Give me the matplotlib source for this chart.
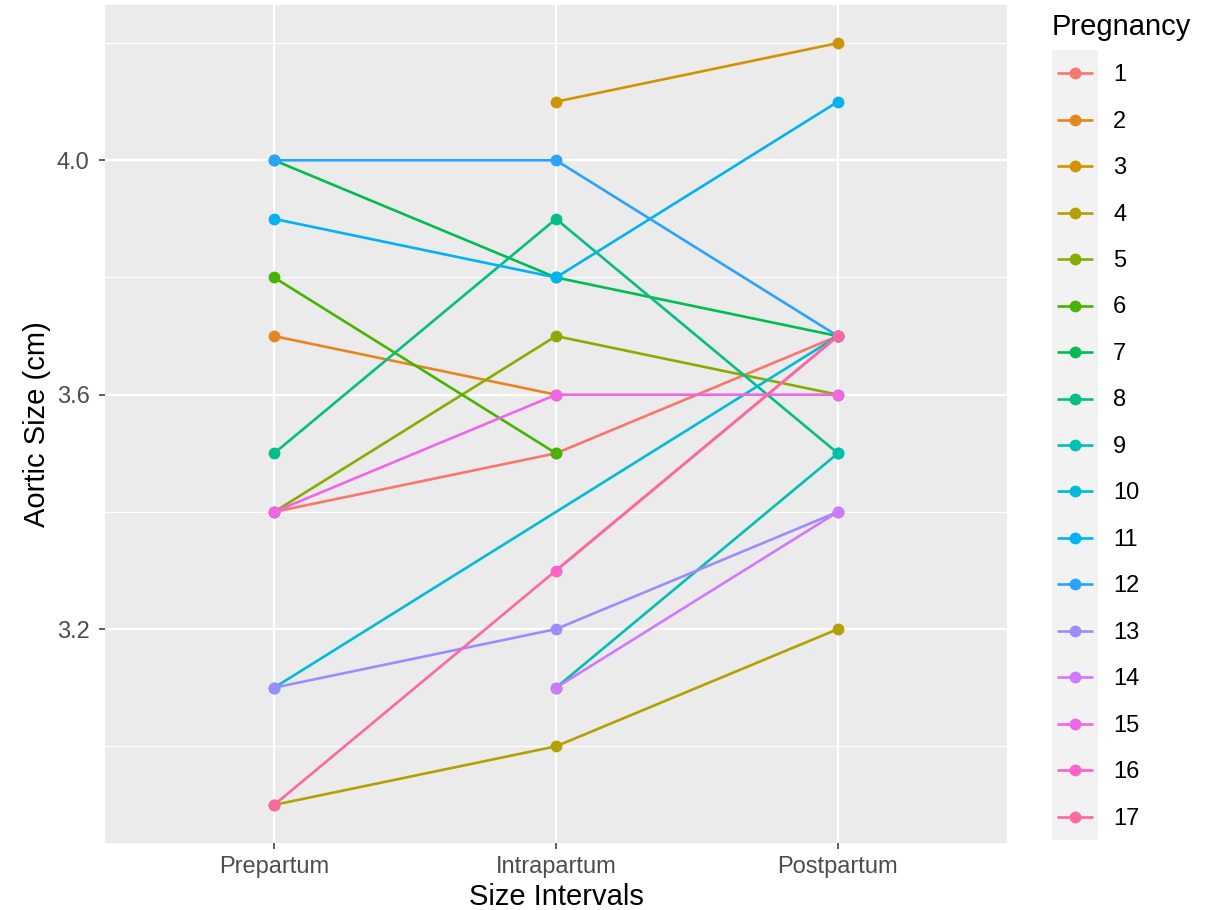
import numpy as np
import matplotlib
matplotlib.use("Agg")
import matplotlib.pyplot as plt

plt.rcParams['font.family'] = ['Liberation Sans', 'DejaVu Sans']

# data: aortic size (cm) per pregnancy at each interval (nan = not measured)
intervals = ["Prepartum", "Intrapartum", "Postpartum"]
pregnancy = [str(i) for i in range(1, 18)]
prepartum = [3.4, 3.7, np.nan, 2.9, 3.4, 3.8, 4.0, 3.5, np.nan,
             3.1, 3.9, 4.0, 3.1, np.nan, 3.4, np.nan, 2.9]
intrapartum = [3.5, 3.6, 4.1, 3.0, 3.7, 3.5, 3.8, 3.9, 3.1,
               np.nan, 3.8, 4.0, 3.2, 3.1, 3.6, 3.3, np.nan]
postpartum = [3.7, np.nan, 4.2, 3.2, 3.6, np.nan, 3.7, 3.5, 3.5,
              3.7, 4.1, 3.7, 3.4, 3.4, 3.6, 3.7, 3.7]
y_major = [3.2, 3.6, 4.0]
y_minor = [3.0, 3.4, 3.8, 4.2]


def hcl(h, c=100.0, l=65.0):
    # same conversion as R's hcl()
    wy, wu, wv = 100.0, 0.1978398, 0.4683363
    hr = np.deg2rad(h)
    U, V = c * np.cos(hr), c * np.sin(hr)
    Y = wy * ((l + 16) / 116) ** 3
    u = U / (13 * l) + wu
    v = V / (13 * l) + wv
    X = 9.0 * Y * u / (4 * v)
    Z = -X / 3 - 5 * Y + 3 * Y / v
    rgb = [(3.240479 * X - 1.537150 * Y - 0.498535 * Z) / wy,
           (-0.969256 * X + 1.875992 * Y + 0.041556 * Z) / wy,
           (0.055648 * X - 0.204043 * Y + 1.057311 * Z) / wy]
    out = []
    for t in rgb:
        t = 1.055 * t ** (1 / 2.4) - 0.055 if t > 0.00304 else 12.92 * t
        out.append(min(max(t, 0), 1))
    return tuple(out)


n = len(pregnancy)
hues = np.linspace(15, 375, n + 1)[:n]
colors = [hcl(h) for h in hues]

W, H = 1220, 910
fig = plt.figure(figsize=(W / 100, H / 100), dpi=100)
fig.patch.set_facecolor("white")


def px_axes(x0, y0, x1, y1):
    return fig.add_axes([x0 / W, 1 - y1 / H, (x1 - x0) / W, (y1 - y0) / H])


ax = px_axes(105, 5, 1007, 843)
ax.set_facecolor("#EBEBEB")
for s in ax.spines.values():
    s.set_visible(False)

xs = np.arange(1, 4)
for ym in y_minor:
    ax.axhline(ym, color="white", lw=0.8, zorder=0)
for ym in y_major:
    ax.axhline(ym, color="white", lw=1.6, zorder=0)
for xm in xs:
    ax.axvline(xm, color="white", lw=1.6, zorder=0)

vals = np.array([prepartum, intrapartum, postpartum]).T
for i in range(n):
    row = vals[i]
    ok = ~np.isnan(row)
    ax.plot(xs[ok], row[ok], color=colors[i], lw=1.9, zorder=2,
            solid_capstyle="butt")
for i in range(n):
    row = vals[i]
    ok = ~np.isnan(row)
    ax.plot(xs[ok], row[ok], "o", color=colors[i], ms=8.5, mew=0, zorder=3)

ax.set_xlim(0.4, 3.6)
ax.set_ylim(2.835, 4.265)
ax.set_xticks(xs)
ax.set_xticklabels(intervals)
ax.set_yticks(y_major)
ax.set_yticklabels([f"{v:.1f}" for v in y_major])
ax.tick_params(axis="both", colors="#333333", labelcolor="#4D4D4D",
               labelsize=17, length=4, width=1.1)
ax.tick_params(axis="x", pad=5.5)
ax.tick_params(axis="y", pad=7)
ax.set_xlabel("Size Intervals", fontsize=21, color="black", labelpad=3.5)
ax.set_ylabel("Aortic Size (cm)", fontsize=21, color="black", labelpad=4.5)

# legend
lg = px_axes(1052, 50, 1098, 840)
lg.set_facecolor("#F2F2F2")
for s in lg.spines.values():
    s.set_visible(False)
lg.set_xticks([])
lg.set_yticks([])
lg.set_xlim(0, 46)
lg.set_ylim(n, 0)
for i in range(n):
    yy = i + 0.5
    lg.plot([5, 41], [yy, yy], color=colors[i], lw=1.9, solid_capstyle="butt")
    lg.plot([23], [yy], "o", color=colors[i], ms=8.5, mew=0)
    lg.text(61, yy + 0.04, pregnancy[i], fontsize=17, color="black",
            va="center", ha="left", clip_on=False)
fig.text(1052 / W, 1 - 27 / H, "Pregnancy", fontsize=21, color="black",
         va="center", ha="left")

fig.savefig("out.png", dpi=100)
